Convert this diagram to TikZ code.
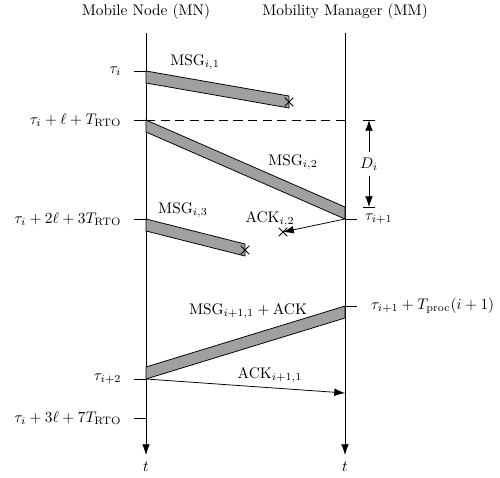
\documentclass[tikz,border=0pt]{standalone}
\usepackage{amsmath,amssymb}
\usepackage{tikz}
\usetikzlibrary{
  arrows.meta,calc,positioning,shapes.misc
}
\definecolor{BandGray}{RGB}{160,160,160}
\definecolor{LineBlack}{RGB}{0,0,0}

\begin{document}
\begin{tikzpicture}[x=0.0229cm,y=-0.0229cm,line width=.5pt,
    life/.style={draw,LineBlack,-{Latex[length=7pt,width=5pt]}},
    band/.style={draw,LineBlack,fill=BandGray},
    sig/.style={draw,LineBlack,-{Latex[length=7pt,width=5pt]}},
    lost/.style={draw,LineBlack,cross out,semithick,inner sep=1.5pt,minimum size=5pt}]
      \useasboundingbox (0,0) rectangle (500,477);
      \foreach \n/\x/\lab in {mn/146/Mobile Node (MN),mm/345/Mobility Manager (MM)}{
        \node (\n-head) at (\x,12) {\lab};
        \coordinate (\n-top) at (\x,33);
        \coordinate (\n-end) at (\x,455);
        \draw[life] (\n-top) -- (\n-end);
        \node (\n-t) at (\x,467) {$t$};
      }
      \foreach \nm/\y/\lab in {ta/71/{\tau_i},tb/120/{\tau_i+\ell+T_{\mathrm{RTO}}},
          tc/219/{\tau_i+2\ell+3T_{\mathrm{RTO}}},td/379/{\tau_{i+2}},
          te/418/{\tau_i+3\ell+7T_{\mathrm{RTO}}}}{
        \coordinate (\nm) at (146,\y);
        \coordinate (\nm-l) at (134,\y);
        \draw (\nm) -- (\nm-l);
        \node[left=7pt of \nm-l,inner sep=1pt] (\nm-lab) {$\lab$};
      }
      \foreach \nm/\y in {ra/219,rb/306}{
        \coordinate (\nm) at (345,\y);
        \coordinate (\nm-r) at (357,\y);
        \draw (\nm) -- (\nm-r);
      }
      \node[right=4pt of ra-r,inner sep=1pt] (ra-lab) {$\tau_{i+1}$};
      \node[right=8pt of rb-r,inner sep=1pt] (rb-lab) {$\tau_{i+1}+T_{\mathrm{proc}}(i+1)$};
      \coordinate (dash-e) at (345,120);
      \draw[dash pattern=on 6pt off 3.5pt] (tb) -- (dash-e);
      \foreach \nm/\xa/\ya/\xb/\yb in {m1/146/71/289/96,m2/146/120/345/207,
          m3/146/219/245/244,m4/146/367/345/306}{
        \coordinate (\nm-s) at (\xa,\ya);
        \coordinate (\nm-e) at (\xb,\yb);
        \draw[band] (\nm-s) -- (\nm-e) -- ++(0,12) -- (\xa,\ya+12) -- cycle;
      }
      \node[lost] (x1) at (289,102) {};
      \node[lost] (x3) at (245,250) {};
      \node[lost] (x2) at (283,232) {};
      \draw[sig] (ra) -- (x2.center);
      \coordinate (ack-e) at (345,393);
      \draw[sig] (td) -- (ack-e);
      \coordinate (d-top) at (369,120);
      \coordinate (d-bot) at (369,207);
      \draw (363,120) -- (375,120);
      \draw (363,207) -- (375,207);
      \node (di) at (369,164) {$D_i$};
      \draw[sig] (di.north) -- (d-top);
      \draw[sig] (di.south) -- (d-bot);
      \node (l1) at (195,62) {$\mathrm{MSG}_{i,1}$};
      \node (l2) at (293,162) {$\mathrm{MSG}_{i,2}$};
      \node (l3) at (183,210) {$\mathrm{MSG}_{i,3}$};
      \node (l4) at (270,219) {$\mathrm{ACK}_{i,2}$};
      \node (l5) at (248,311) {$\mathrm{MSG}_{i+1,1}+\mathrm{ACK}$};
      \node (l6) at (270,375) {$\mathrm{ACK}_{i+1,1}$};
    \end{tikzpicture}
\end{document}
